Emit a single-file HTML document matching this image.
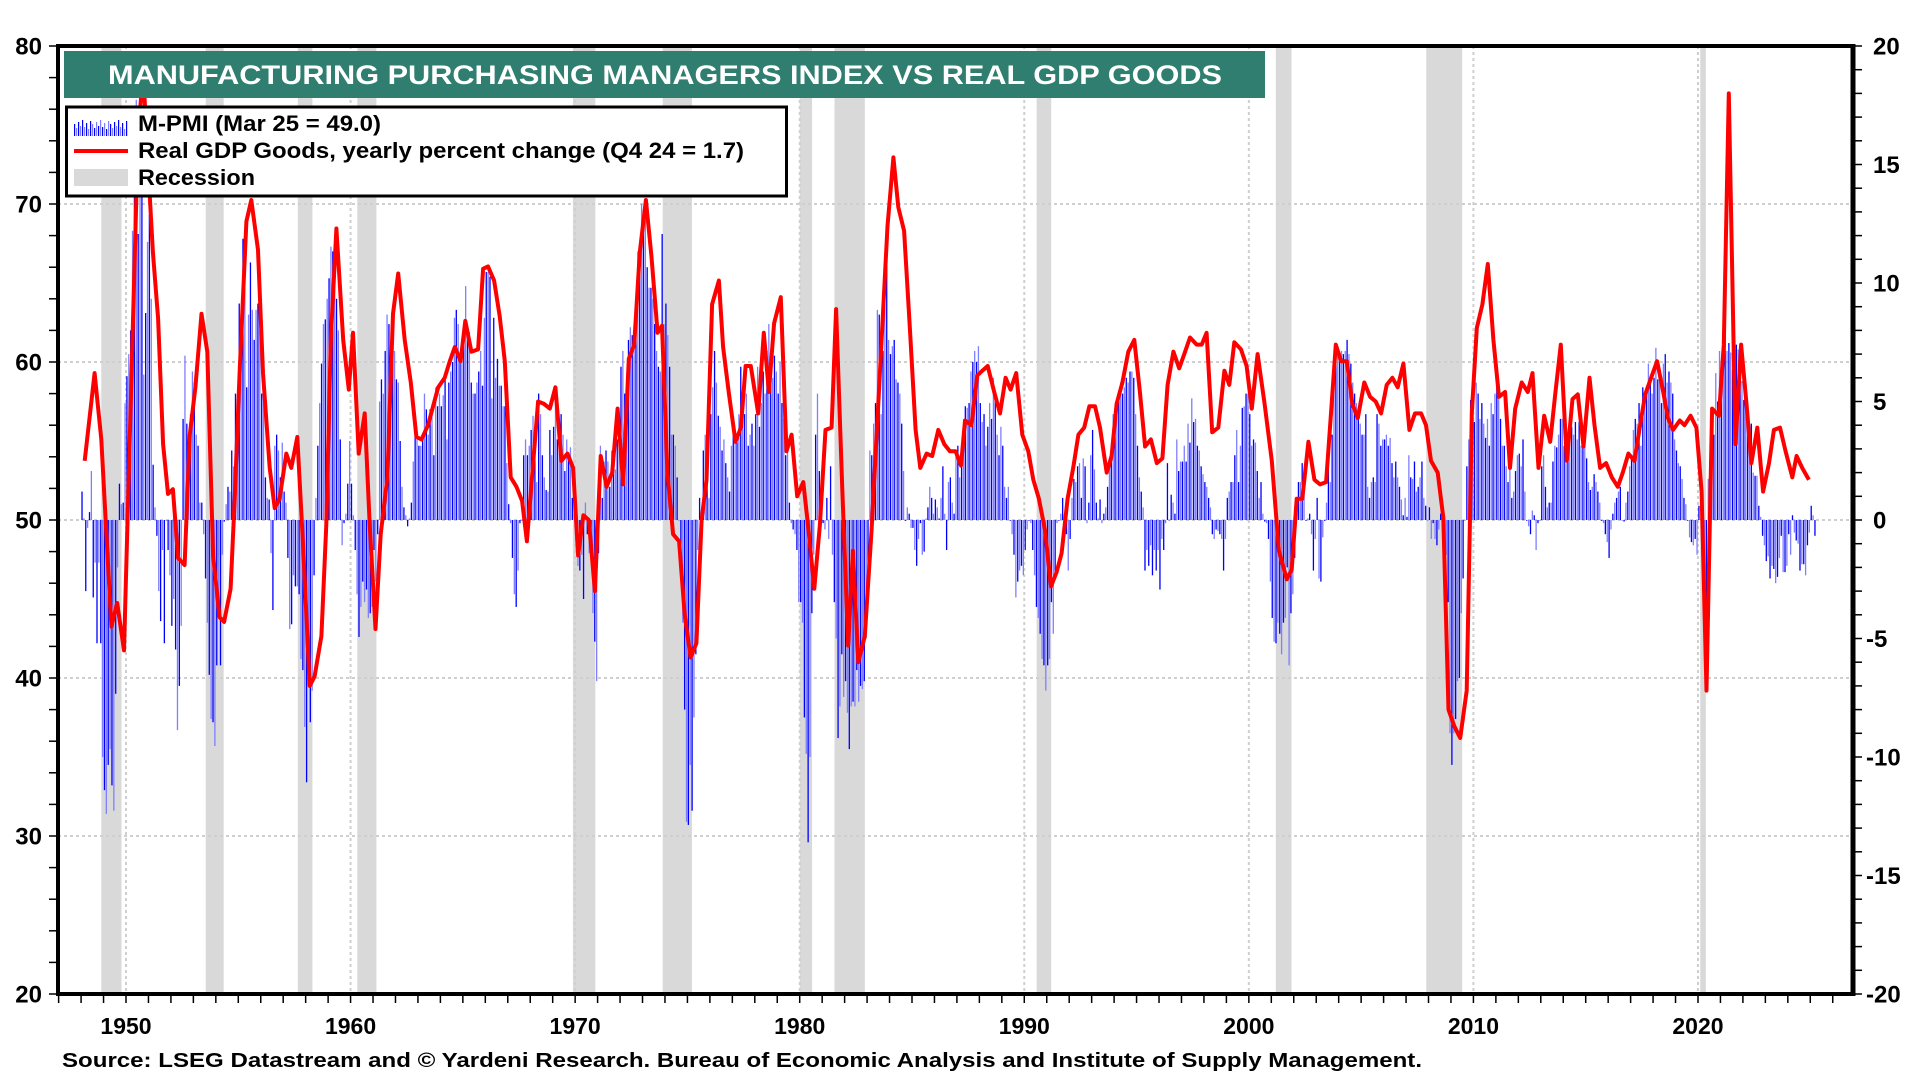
<!DOCTYPE html>
<html><head><meta charset="utf-8"><title>Manufacturing PMI vs Real GDP Goods</title>
<style>
html,body{margin:0;padding:0;background:#fff;}
svg{display:block;font-family:"Liberation Sans",Arial,sans-serif;font-weight:bold;}
</style></head>
<body>
<svg id="chart" width="1920" height="1080" viewBox="0 0 1920 1080" xmlns="http://www.w3.org/2000/svg">
  <rect x="0" y="0" width="1920" height="1080" fill="#fff"/>
  <g id="recessions"></g>
  <g id="grid"></g>
  <g id="bars"></g>
  <g id="line"></g>
  <g id="axes"></g>
  <rect x="64" y="51" width="1201" height="47" fill="#2f7e6f"/>
  <text x="108" y="84" fill="#fff" font-size="27" textLength="1114" lengthAdjust="spacingAndGlyphs">MANUFACTURING PURCHASING MANAGERS INDEX VS REAL GDP GOODS</text>
  <g>
    <rect x="66.5" y="107" width="720" height="89" fill="#fff" stroke="#000" stroke-width="3"/>
    <g id="legendBars"></g>
    <text x="138" y="131" font-size="22" textLength="243" lengthAdjust="spacingAndGlyphs">M-PMI (Mar 25 = 49.0)</text>
    <line x1="74" y1="151" x2="128" y2="151" stroke="#ff0000" stroke-width="4"/>
    <text x="138" y="158" font-size="22" textLength="606" lengthAdjust="spacingAndGlyphs">Real GDP Goods, yearly percent change (Q4 24 = 1.7)</text>
    <rect x="74" y="169" width="54" height="17" fill="#d9d9d9"/>
    <text x="138" y="185" font-size="22" textLength="117" lengthAdjust="spacingAndGlyphs">Recession</text>
  </g>
  <text x="62" y="1067" font-size="20" textLength="1360" lengthAdjust="spacingAndGlyphs">Source: LSEG Datastream and © Yardeni Research. Bureau of Economic Analysis and Institute of Supply Management.</text>
</svg>
<script>
// ---- data ----
const pmiStartYear = 1948;
const pmiValues = [
51.8,50.1,45.5,49.5,50.5,53.1,45.1,47.3,42.2,47.3,42.2,35.0,
32.9,31.4,34.5,35.5,33.2,31.6,39.0,47.0,52.3,51.0,51.1,57.4,
59.1,60.5,62.0,68.3,72.6,76.6,68.1,76.6,72.0,59.2,63.1,67.6,
69.3,64.0,53.5,50.8,49.0,45.5,43.6,48.1,42.2,50.0,48.1,46.5,
43.3,45.0,41.8,36.7,39.5,43.3,56.4,60.4,56.1,55.4,56.7,59.4,
58.7,55.4,54.7,51.1,51.1,49.1,46.3,43.5,40.2,37.4,37.2,35.7,
40.8,43.8,40.8,47.8,49.9,51.0,52.1,51.8,54.4,53.4,58.0,56.1,
63.7,63.0,67.8,67.3,58.4,63.0,66.3,63.3,61.4,63.3,63.7,62.0,
58.0,58.0,52.7,51.4,51.3,47.9,44.3,54.7,55.4,54.4,52.7,54.9,
51.8,51.1,47.6,43.1,43.4,46.5,45.8,45.8,45.3,41.2,40.5,36.9,
33.4,41.8,37.2,39.2,46.5,51.4,54.7,57.4,59.9,62.4,62.7,64.0,
65.3,67.3,67.0,65.3,64.0,62.0,55.1,48.4,49.8,50.4,52.3,55.0,
52.3,50.3,48.1,45.3,42.6,44.5,46.1,44.8,45.6,43.8,44.1,44.5,
48.1,46.1,49.1,57.5,58.9,58.0,60.7,63.0,62.4,60.5,61.0,60.7,
58.9,58.7,55.0,52.1,50.8,50.3,49.6,50.1,51.1,53.7,56.4,55.1,
54.7,54.7,55.4,58.0,57.0,55.4,57.0,56.7,54.1,58.4,57.2,58.0,
57.2,57.9,58.9,55.1,58.7,59.4,60.0,62.8,63.3,62.4,60.4,60.7,
61.2,64.8,62.0,61.9,58.7,58.0,58.0,58.7,59.4,60.7,58.5,62.8,
65.7,65.7,65.4,57.7,62.8,59.0,60.2,58.5,58.5,57.2,57.2,53.6,
51.0,49.8,47.6,45.3,44.5,46.8,49.8,50.0,54.1,55.1,54.1,54.7,
55.7,56.6,54.7,52.4,58.0,56.7,54.1,52.7,51.9,51.8,55.7,54.1,
55.9,58.0,55.1,56.4,56.7,55.4,53.1,55.1,54.1,54.6,51.4,50.4,
48.8,47.1,46.8,47.8,45.0,51.1,49.1,47.9,47.5,44.1,42.3,39.8,
47.9,54.7,51.4,53.7,54.4,53.7,52.1,54.4,54.1,53.2,55.1,54.7,
59.7,60.7,58.0,57.7,61.4,62.2,61.7,62.0,63.0,67.0,66.3,70.0,
69.6,69.0,66.0,64.7,64.7,64.0,62.4,60.7,59.7,59.4,68.1,62.4,
63.7,61.7,59.7,55.4,55.4,54.7,52.7,50.0,46.5,43.5,38.0,30.9,
30.7,34.5,31.6,37.5,41.5,48.1,51.4,50.0,54.4,55.4,52.7,51.4,
56.7,58.4,60.7,58.7,56.6,55.9,54.4,55.1,53.6,52.7,51.8,54.7,
56.1,55.7,54.9,56.7,59.7,58.0,56.7,58.0,54.7,55.4,56.1,54.7,
56.7,59.7,55.9,57.4,59.4,58.0,60.7,62.4,59.7,59.0,60.4,59.4,
58.0,60.0,57.4,56.4,54.1,54.7,51.1,49.8,49.4,49.1,48.1,44.8,
44.8,43.5,37.5,35.2,29.6,35.0,44.1,47.8,55.4,58.0,53.1,50.1,
49.8,49.4,51.4,48.8,53.4,47.8,44.8,42.5,36.2,38.2,41.5,38.8,
39.8,37.8,35.5,38.2,38.5,38.2,40.5,38.5,39.5,39.3,39.8,42.5,
46.0,54.4,54.1,56.1,57.4,63.3,63.0,56.7,60.7,65.3,68.6,61.4,
60.5,61.0,61.4,58.9,58.7,58.0,56.1,53.1,50.0,50.8,50.4,49.5,
49.5,48.1,47.1,48.8,49.8,47.8,48.0,50.1,50.8,52.1,51.4,50.4,
51.3,50.8,50.1,51.4,53.4,50.4,48.1,52.4,52.7,51.1,50.4,54.1,
54.7,52.7,53.7,54.7,57.2,57.1,57.4,59.4,60.0,60.7,60.0,61.0,
57.4,56.2,56.7,54.7,55.9,57.4,56.4,59.0,58.0,55.4,54.1,55.9,
54.7,52.1,51.4,52.1,50.0,49.1,47.8,45.1,46.1,46.8,47.1,46.5,
48.1,49.4,50.0,49.8,48.1,46.5,44.5,43.8,42.8,41.2,40.8,39.2,
40.8,41.2,44.8,42.8,46.5,49.8,50.0,50.4,51.4,50.4,49.1,46.8,
48.8,51.4,52.6,52.4,53.4,53.6,51.4,53.9,53.4,49.8,51.1,54.1,
55.7,53.2,51.1,50.1,51.3,49.8,50.4,50.8,52.1,53.7,54.7,56.7,
56.7,57.7,58.0,58.7,58.0,58.4,59.0,58.7,59.4,59.4,59.0,56.7,
54.7,52.7,51.8,50.8,46.8,48.1,47.1,48.4,46.5,48.1,46.8,48.1,
45.6,48.8,48.1,49.8,53.6,50.0,51.6,51.1,50.4,55.1,53.1,53.7,
53.7,54.7,53.7,56.1,54.9,57.7,56.2,56.4,54.7,54.4,53.4,52.9,
52.4,52.1,51.4,50.8,49.1,48.8,49.4,49.3,49.1,48.8,46.8,48.8,
51.4,51.8,52.4,52.4,54.1,55.7,52.4,54.7,57.1,57.2,58.0,58.0,
56.7,54.7,55.1,54.9,53.1,51.4,52.4,50.4,49.9,49.8,48.8,46.1,
43.8,42.3,42.2,43.5,42.8,41.5,43.5,43.8,47.0,40.8,44.1,45.3,
47.6,51.4,52.4,52.4,53.6,51.8,50.0,50.1,50.4,49.1,46.8,48.8,
51.4,46.3,46.1,48.9,50.0,51.1,53.2,52.4,55.4,58.4,60.0,60.9,
60.5,60.7,60.5,60.7,61.4,60.5,59.9,58.7,58.0,57.4,56.4,56.1,
55.4,55.4,56.7,52.1,51.4,52.4,52.7,52.4,56.7,56.1,54.7,55.1,
55.1,55.4,54.7,55.2,53.6,52.7,53.7,52.7,52.1,51.3,50.3,51.4,
50.2,54.1,52.7,52.6,53.7,51.8,52.1,52.7,53.7,51.4,50.9,50.0,
50.8,48.8,49.8,48.8,48.4,49.4,50.4,50.0,50.1,47.8,44.8,36.5,
34.5,36.5,37.4,39.8,40.0,44.1,46.3,50.0,53.4,55.1,57.6,56.7,
56.2,58.7,58.0,56.4,57.4,56.1,55.2,56.4,54.7,57.4,56.7,58.0,
59.2,58.7,56.4,54.7,54.7,53.4,52.4,53.4,51.4,51.8,53.1,54.1,
54.2,53.4,55.1,51.8,50.0,49.6,49.1,50.6,50.3,48.1,49.8,50.0,
53.4,54.1,52.1,50.8,51.1,51.1,53.7,54.7,54.6,55.4,56.4,56.4,
54.7,53.7,54.7,55.4,55.9,55.4,56.2,55.1,56.2,54.7,55.4,54.7,
53.9,52.4,51.9,52.1,52.9,52.4,51.8,51.1,50.0,49.8,49.1,48.6,
47.6,49.4,50.4,51.1,51.4,51.8,52.1,50.0,49.9,51.1,51.8,53.4,
54.1,55.7,56.4,56.1,57.4,54.7,58.4,57.4,58.0,59.9,58.7,58.0,
59.0,60.9,58.9,59.4,57.4,59.9,60.5,58.7,59.4,58.7,58.0,55.1,
54.4,53.6,53.4,52.6,51.4,51.0,50.0,48.9,48.6,48.4,48.8,47.8,
50.9,50.1,49.1,41.5,43.1,52.6,54.2,56.0,55.4,59.3,57.5,60.7,
59.4,60.8,64.7,60.7,61.2,60.6,59.5,59.9,61.1,60.8,61.1,58.8,
57.6,58.6,57.1,55.4,56.1,53.0,52.8,52.8,50.9,50.2,49.0,48.4,
47.4,47.7,46.3,47.1,46.9,46.0,46.4,47.6,49.0,46.7,46.7,47.1,
49.1,47.8,50.3,49.2,48.7,48.5,46.8,47.2,47.2,46.5,48.4,49.2,
50.9,50.3,49.0
];
const gdpDates = [1948.16,1948.60,1948.90,1949.35,1949.61,1949.91,1950.53,1950.76,1950.98,1951.20,1951.43,1951.65,1951.87,1952.09,1952.32,1952.61,1952.84,1953.09,1953.36,1953.62,1953.88,1954.17,1954.37,1954.66,1954.84,1955.06,1955.36,1955.58,1955.88,1956.10,1956.40,1956.62,1956.84,1957.14,1957.36,1957.63,1957.88,1958.18,1958.40,1958.70,1958.92,1959.12,1959.37,1959.67,1959.92,1960.11,1960.36,1960.63,1960.85,1961.11,1961.34,1961.64,1961.89,1962.12,1962.41,1962.68,1962.93,1963.16,1963.45,1963.90,1964.19,1964.42,1964.64,1964.90,1965.11,1965.38,1965.68,1965.90,1966.12,1966.39,1966.64,1966.87,1967.13,1967.39,1967.64,1967.85,1968.08,1968.35,1968.62,1968.87,1969.12,1969.39,1969.66,1969.91,1970.13,1970.37,1970.61,1970.88,1971.14,1971.40,1971.65,1971.89,1972.14,1972.39,1972.63,1972.88,1973.15,1973.40,1973.67,1973.87,1974.11,1974.36,1974.63,1974.88,1975.14,1975.40,1975.63,1975.85,1976.10,1976.40,1976.59,1976.84,1977.14,1977.38,1977.59,1977.82,1978.15,1978.40,1978.63,1978.86,1979.16,1979.41,1979.64,1979.89,1980.16,1980.38,1980.65,1980.90,1981.15,1981.42,1981.62,1981.89,1982.16,1982.37,1982.61,1982.90,1983.20,1983.57,1983.91,1984.17,1984.39,1984.65,1984.91,1985.16,1985.37,1985.65,1985.90,1986.17,1986.44,1986.69,1986.94,1987.18,1987.36,1987.65,1987.91,1988.13,1988.37,1988.66,1988.92,1989.17,1989.39,1989.64,1989.91,1990.18,1990.40,1990.65,1990.92,1991.19,1991.44,1991.66,1991.93,1992.18,1992.41,1992.67,1992.90,1993.15,1993.37,1993.67,1993.89,1994.11,1994.37,1994.63,1994.90,1995.15,1995.38,1995.64,1995.90,1996.15,1996.38,1996.64,1996.90,1997.16,1997.38,1997.68,1997.90,1998.12,1998.37,1998.64,1998.91,1999.13,1999.35,1999.65,1999.90,2000.13,2000.39,2000.70,2001.02,2001.34,2001.69,2001.91,2002.13,2002.38,2002.65,2002.92,2003.17,2003.44,2003.66,2003.87,2004.11,2004.36,2004.61,2004.85,2005.14,2005.40,2005.65,2005.89,2006.14,2006.39,2006.63,2006.88,2007.15,2007.40,2007.67,2007.89,2008.11,2008.41,2008.66,2008.89,2009.15,2009.41,2009.70,2009.85,2009.93,2010.15,2010.40,2010.64,2010.89,2011.14,2011.41,2011.63,2011.86,2012.15,2012.42,2012.63,2012.90,2013.15,2013.42,2013.64,2013.89,2014.16,2014.41,2014.65,2014.90,2015.17,2015.39,2015.64,2015.91,2016.16,2016.43,2016.65,2016.90,2017.17,2017.42,2017.65,2017.91,2018.18,2018.45,2018.66,2018.89,2019.19,2019.40,2019.67,2019.93,2020.16,2020.38,2020.63,2020.93,2021.15,2021.37,2021.67,2021.92,2022.16,2022.38,2022.64,2022.90,2023.16,2023.38,2023.65,2023.90,2024.20,2024.39,2024.64,2024.94];
const gdpValues = [2.5,6.2,3.4,-4.5,-3.5,-5.5,16.0,19.0,15.0,11.3,8.5,3.2,1.1,1.3,-1.6,-1.9,3.6,5.6,8.7,7.1,-1.5,-4.1,-4.3,-2.9,0.9,6.2,12.6,13.5,11.4,6.2,2.2,0.5,0.9,2.8,2.2,3.5,-1.0,-7.0,-6.6,-4.9,-0.2,7.6,12.3,7.6,5.5,7.9,2.8,4.5,-0.2,-4.6,-0.6,1.8,8.7,10.4,7.6,5.8,3.5,3.4,4.0,5.6,6.0,6.7,7.3,6.7,8.4,7.1,7.2,10.6,10.7,10.1,8.6,6.7,1.8,1.4,0.8,-0.9,1.8,5.0,4.9,4.7,5.6,2.5,2.8,2.2,-1.5,0.2,0.0,-3.0,2.7,1.4,2.0,4.7,1.5,6.8,7.4,11.3,13.5,11.1,7.9,8.2,2.0,-0.6,-0.9,-4.0,-5.8,-5.2,0.0,1.7,9.1,10.1,7.3,5.4,3.3,3.9,6.5,6.5,4.5,7.9,5.4,8.3,9.4,2.9,3.6,1.0,1.6,-0.3,-2.9,-0.2,3.8,3.9,8.9,1.4,-5.3,-1.3,-6.0,-4.9,-0.4,6.2,12.4,15.3,13.2,12.2,8.0,3.8,2.2,2.8,2.7,3.8,3.2,2.9,2.9,2.3,4.2,4.0,6.1,6.3,6.5,5.4,4.5,6.0,5.5,6.2,3.6,2.9,1.7,0.9,-0.4,-2.8,-2.2,-1.4,0.9,2.2,3.6,3.9,4.8,4.8,3.9,2.0,2.7,4.9,5.8,7.1,7.6,5.4,3.1,3.4,2.4,2.6,5.7,7.1,6.4,7.1,7.7,7.4,7.4,7.9,3.7,3.9,6.3,5.7,7.5,7.2,6.5,4.7,7.0,4.9,2.5,-1.3,-2.5,-2.1,0.9,0.9,3.3,1.7,1.5,1.6,4.5,7.4,6.7,6.7,4.9,4.3,5.8,5.2,5.0,4.5,5.7,6.0,5.6,6.6,3.8,4.5,4.5,4.0,2.5,2.0,0.1,-8.0,-8.7,-9.2,-7.2,0.3,4.5,8.1,9.1,10.8,7.6,5.2,5.4,2.2,4.7,5.8,5.4,6.2,2.2,4.4,3.3,5.3,7.4,2.5,5.1,5.3,3.1,6.0,4.0,2.2,2.4,1.8,1.4,2.0,2.8,2.5,4.0,5.3,6.0,6.7,5.4,4.3,3.8,4.2,4.0,4.4,3.9,1.2,-7.2,4.7,4.4,7.4,18.0,3.2,7.4,4.9,2.4,3.9,1.2,2.4,3.8,3.9,2.9,1.8,2.7,2.2,1.7];
const recessionStarts = [1948.9,1953.55,1957.65,1960.3,1969.9,1973.9,1980.0,1981.55,1990.55,2001.2,2007.9,2020.1];
const recessionEnds   = [1949.8,1954.35,1958.3,1961.15,1970.9,1975.2,1980.55,1982.9,1991.2,2001.9,2009.5,2020.35];
const leftTicks = [20,30,40,50,60,70,80];
const rightTicks = [-20,-15,-10,-5,0,5,10,15,20];
const yearLabels = [1950,1960,1970,1980,1990,2000,2010,2020];

// ---- scales ----
const PL=58, PR=1853, PT=46, PB=994;
const xYear = y => 126 + (y-1950)*22.457;
const yLeft = v => PB - (v-20)*(PB-PT)/60;
const yRight = v => PB - (v+20)*(PB-PT)/40;
const NS='http://www.w3.org/2000/svg';
function mk(tag, attrs, parent){const e=document.createElementNS(NS,tag);for(const k in attrs)e.setAttribute(k,attrs[k]);parent.appendChild(e);return e;}

// recessions
const gRec=document.getElementById('recessions');
recessionStarts.forEach((s,i)=>{
  const r=mk('rect',{x:xYear(s),y:PT,width:xYear(recessionEnds[i])-xYear(s),height:PB-PT,fill:'#d9d9d9'},gRec);
  
  
});
// grid
const gGrid=document.getElementById('grid');
leftTicks.forEach(v=>{ if(v>20&&v<80){
  const l=mk('line',{x1:PL,x2:PR,y1:yLeft(v),y2:yLeft(v),stroke:'#cfcfcf','stroke-width':2,'stroke-dasharray':'3 3'},gGrid);
  
  
}});
yearLabels.forEach(yr=>{
  const l=mk('line',{x1:xYear(yr),x2:xYear(yr),y1:PT,y2:PB,stroke:'#cfcfcf','stroke-width':2,'stroke-dasharray':'3 3'},gGrid);
  
  
});
// bars
const gBars=document.getElementById('bars');
pmiValues.forEach((v,i)=>{
  const t=pmiStartYear+(i+0.5)/12;
  const y0=yLeft(50), y1=yLeft(v);
  const b=mk('rect',{x:xYear(t)-0.65,y:Math.min(y0,y1),width:1.3,height:Math.max(0.8,Math.abs(y1-y0)),fill:(i%2?'#7f7fff':'#0000ff')},gBars);
  
  
});
// line
const pts=gdpDates.map((d,i)=>xYear(d).toFixed(1)+','+yRight(gdpValues[i]).toFixed(1)).join(' ');
const pl=mk('polyline',{points:pts,fill:'none',stroke:'#ff0000','stroke-width':4,'stroke-linejoin':'round'},document.getElementById('line'));



// axes
const gAx=document.getElementById('axes');
const frame=mk('rect',{x:PL,y:PT,width:PR-PL,height:PB-PT,fill:'none',stroke:'#000','stroke-width':4},gAx);


const rAx=mk('line',{x1:PR,x2:PR,y1:PT-2,y2:PB+2,stroke:'#000','stroke-width':5},gAx);


for(let v=20;v<=80;v+=2){
  const t=mk('line',{x1:PL-9,x2:PL,y1:yLeft(v),y2:yLeft(v),stroke:'#000','stroke-width':1.5},gAx);
  
  
}
leftTicks.forEach(v=>{
  const t=mk('text',{x:42,y:yLeft(v)+8.5,'font-size':24,'text-anchor':'end'},gAx);
  t.textContent=v;
  
  
});
for(let v=-20;v<=20;v+=1){
  const t=mk('line',{x1:PR,x2:PR+9,y1:yRight(v),y2:yRight(v),stroke:'#000','stroke-width':1.5},gAx);
  
  
}
rightTicks.forEach(v=>{
  const t=mk('text',{x:v<0?1866:1873,y:yRight(v)+8.5,'font-size':24},gAx);
  t.textContent=v;
  
  
});
for(let yr=1947;yr<=2026;yr++){
  const t=mk('line',{x1:xYear(yr),x2:xYear(yr),y1:PB,y2:PB+9,stroke:'#000','stroke-width':1.5},gAx);
  
  
}
yearLabels.forEach(yr=>{
  const t=mk('text',{x:xYear(yr),y:1034,'font-size':23,'text-anchor':'middle'},gAx);
  t.textContent=yr;
  
  
});
// legend swatch bars
const lg=document.getElementById('legendBars');
for(let i=0;i<27;i++){
  const h=[12,8,14,10,16,9,13,7,15][i%9];
  const b=mk('rect',{x:74+i*2,y:136-h,width:1.2,height:h,fill:(i%2?'#7f7fff':'#0000ff')},lg);
  
  
}
</script>
</body></html>
